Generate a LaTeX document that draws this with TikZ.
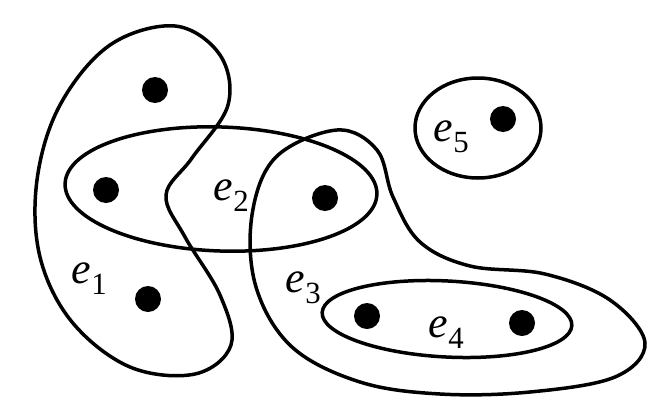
\documentclass[tikz,border=0pt]{standalone}
\usepackage{fontspec}
\setmainfont{Liberation Serif}

\tikzset{
  vertex/.style={circle,fill=black,minimum size=26pt,inner sep=0pt},
  edgelabel/.style={anchor=base west,inner sep=0pt,font=\fontsize{44}{50}\selectfont}
}

\begin{document}
\begin{tikzpicture}[x=1pt,y=-1pt,line width=3.5pt]
    \useasboundingbox (0,0) rectangle (669,410);
    %e1
    \draw plot[smooth cycle,tension=0.6] coordinates {(175,26) (220,55)
         (228,105) (192,158) (166,195) (185,237) (220,295) (231,345)
         (195,374) (130,367) (72,322) (40,257) (37,180) (60,105)
         (110,45)};
    %e2
    \draw[rotate around={-2:(221,189)}] (221,189) ellipse (156 and 62);
    %e3
    \draw plot[smooth cycle,tension=0.6] coordinates {(337,130) (377,150)
         (393,197) (420,242) (470,266) (545,274) (610,300) (645,343)
         (615,377) (530,392) (440,394) (360,382) (292,347) (256,287)
         (252,215) (276,157)};
    %e4
    \draw[rotate around={-3:(447,319)}] (447,319) ellipse (125 and 38);
    %e5
    \draw (478,128) ellipse (63 and 50);
    %vertices
    \node[vertex] (v1) at (155,90) {};
    \node[vertex] (v2) at (106,190) {};
    \node[vertex] (v3) at (148,299) {};
    \node[vertex] (v4) at (325,198) {};
    \node[vertex] (v5) at (503,119) {};
    \node[vertex] (v6) at (367,316) {};
    \node[vertex] (v7) at (522,323) {};
    %labels
    \node[edgelabel] (l1) at (70,283) {\textit{e}$_{\mathrm{1}}$};
    \node[edgelabel] (l2) at (212,200) {\textit{e}$_{\mathrm{2}}$};
    \node[edgelabel] (l3) at (284,292) {\textit{e}$_{\mathrm{3}}$};
    \node[edgelabel] (l4) at (427,337) {\textit{e}$_{\mathrm{4}}$};
    \node[edgelabel] (l5) at (432,141) {\textit{e}$_{\mathrm{5}}$};
\end{tikzpicture}
\end{document}
